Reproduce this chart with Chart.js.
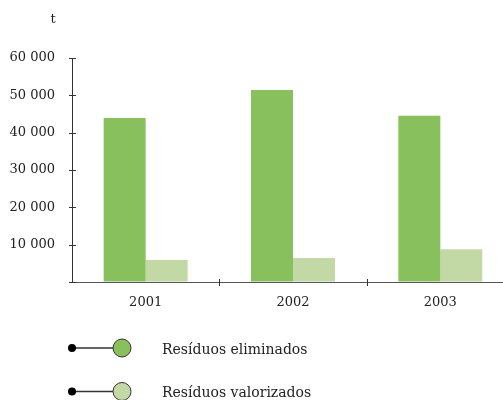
<!DOCTYPE html>
<html>
<head>
<meta charset="utf-8">
<script src="https://cdn.jsdelivr.net/npm/chart.js@4/dist/chart.umd.min.js"></script>
<style>
  html,body{margin:0;padding:0;background:#fff;overflow:hidden;}
  #wrap{width:514px;height:400px;}
</style>
</head>
<body>
<div id="wrap"><canvas id="c" width="514" height="400"></canvas></div>
<script>
/* datos: toneladas por año */
const anos        = ['2001', '2002', '2003'];
const eliminados  = [43900, 51400, 44500];
const valorizados = [5900, 6400, 8800];
const series      = ['Resíduos eliminados', 'Resíduos valorizados'];
const unidad      = 't';

const FONT = 'DejaVu Serif';
const verdes = ['#88c05e', '#c2d9a6'];

const fmt = v => String(v).replace(/\B(?=(\d{3})+(?!\d))/g, ' ');

/* marcas de eje cruzadas + leyenda propia + unidad */
const extras = {
  id: 'extras',
  afterDraw(chart){
    const ctx = chart.ctx, a = chart.chartArea;
    const y = chart.scales.y, x = chart.scales.x;
    ctx.save();
    ctx.strokeStyle = '#333'; ctx.lineWidth = 1;
    y.ticks.forEach(t=>{
      const py = Math.round(y.getPixelForValue(t.value)) + 0.5;
      ctx.beginPath(); ctx.moveTo(a.left-3, py); ctx.lineTo(a.left+4, py); ctx.stroke();
    });
    for(let i=1;i<anos.length;i++){
      const px = Math.round((x.getPixelForValue(i-1)+x.getPixelForValue(i))/2) + 0.5;
      ctx.beginPath(); ctx.moveTo(px, a.bottom-3); ctx.lineTo(px, a.bottom+4); ctx.stroke();
    }

    // unidad
    ctx.fillStyle = '#222';
    ctx.font = `13px "${FONT}"`;
    ctx.textAlign = 'center'; ctx.textBaseline = 'middle';
    ctx.fillText(unidad, 53, 20);

    // leyenda
    ctx.font = `14px "${FONT}"`;
    chart.data.datasets.forEach((ds,i)=>{
      const ly = 348 + i*43.5;
      ctx.strokeStyle = '#333'; ctx.lineWidth = 1.5;
      ctx.beginPath(); ctx.moveTo(72, ly); ctx.lineTo(114, ly); ctx.stroke();
      ctx.fillStyle = '#000';
      ctx.beginPath(); ctx.arc(72, ly, 4, 0, Math.PI*2); ctx.fill();
      ctx.fillStyle = ds.backgroundColor; ctx.lineWidth = 1;
      ctx.beginPath(); ctx.arc(122, ly, 9, 0, Math.PI*2); ctx.fill(); ctx.stroke();
      ctx.fillStyle = '#222';
      ctx.textAlign = 'left';
      ctx.fillText(ds.label, 162, ly+2);
    });
    ctx.restore();
  }
};

new Chart('c', {
  type: 'bar',
  data: {
    labels: anos,
    datasets: [
      {label: series[0], data: eliminados,  backgroundColor: verdes[0]},
      {label: series[1], data: valorizados, backgroundColor: verdes[1]}
    ]
  },
  options: {
    responsive: false,
    animation: false,
    layout: {padding: {top: 58, left: 0, right: 0, bottom: 0}},
    datasets: {bar: {categoryPercentage: 0.57, barPercentage: 1.0}},
    plugins: {legend: {display: false}, tooltip: {enabled: false}},
    scales: {
      x: {
        afterFit: s => { s.height = 118; },
        grid: {drawOnChartArea: false, drawTicks: false},
        border: {display: true, color: '#555', width: 1},
        ticks: {color: '#222', padding: 13, font: {family: FONT, size: 13}}
      },
      y: {
        min: 0, max: 60000,
        afterFit: s => { s.width = 72; },
        grid: {drawOnChartArea: false, drawTicks: false},
        border: {display: true, color: '#333', width: 1},
        ticks: {stepSize: 10000, color: '#222', padding: 17,
                font: {family: FONT, size: 13},
                callback: v => v === 0 ? '' : fmt(v)}
      }
    }
  },
  plugins: [extras]
});
</script>
</body>
</html>
